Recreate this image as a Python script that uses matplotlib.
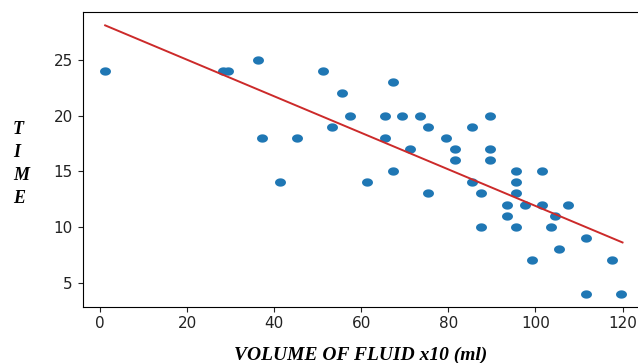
import numpy as np
import matplotlib
matplotlib.use("Agg")
import matplotlib.pyplot as plt
from matplotlib.path import Path

# volume of fluid (x10 ml) and time
volume = [1.2, 28.3, 29.5, 36.3, 37.2, 41.3, 45.2, 51.3, 53.3, 55.5,
          57.4, 61.4, 65.4, 65.4, 67.3, 67.3, 69.3, 71.3, 73.4, 75.4,
          75.4, 79.4, 81.5, 81.5, 85.4, 85.4, 87.5, 87.5, 89.5, 89.5,
          89.5, 93.4, 93.4, 95.5, 95.5, 95.5, 95.5, 97.6, 99.3, 101.5,
          101.5, 103.6, 104.5, 105.5, 107.4, 111.6, 111.6, 117.5, 119.6]
time = [24, 24, 24, 25, 18, 14, 18, 24, 19, 22,
        20, 14, 20, 18, 23, 15, 20, 17, 20, 19,
        13, 18, 17, 16, 19, 14, 13, 10, 20, 17,
        16, 12, 11, 15, 14, 13, 10, 12, 7, 15,
        12, 10, 11, 8, 12, 9, 4, 7, 4]

# fitted line end points
fit_x = [1.2, 120.0]
fit_y = [28.1, 8.6]

# slightly wide dot, the source image is stretched sideways
t = np.linspace(0, 2 * np.pi, 60)
dot = Path(np.column_stack([np.cos(t), 0.76 * np.sin(t)]), closed=True)

fig = plt.figure(figsize=(6.38, 3.63), dpi=100)
# axes run past the right edge, the right spine is cut off in the source
ax = fig.add_axes([82.5 / 638, (363 - 306.7) / 363, 580 / 638, 294.7 / 363])

ax.scatter(volume, time, s=62, marker=dot, color="#1f77b4", linewidths=0)
ax.plot(fit_x, fit_y, color="#cc2a2a", lw=1.4)

ax.set_xlim(-4.0, -4.0 + 580 / 4.355)
ax.set_ylim(2.83, 29.3)
ax.set_xticks([0, 20, 40, 60, 80, 100, 120])
ax.set_yticks([5, 10, 15, 20, 25])
ax.tick_params(labelsize=11, colors="#222222")

ax.set_xlabel("VOLUME OF FLUID x10 (ml)", family="Liberation Serif",
              fontweight="bold", fontstyle="italic", fontsize=14, labelpad=6)
ax.xaxis.set_label_coords((361 - 82.5) / 580, -0.135)
fig.text(13 / 638, 1 - 164 / 363, "T\nI\nM\nE", family="Liberation Serif",
         fontweight="bold", fontstyle="italic", fontsize=13,
         ha="left", va="center", linespacing=1.45)

fig.savefig("out.png", dpi=100)
